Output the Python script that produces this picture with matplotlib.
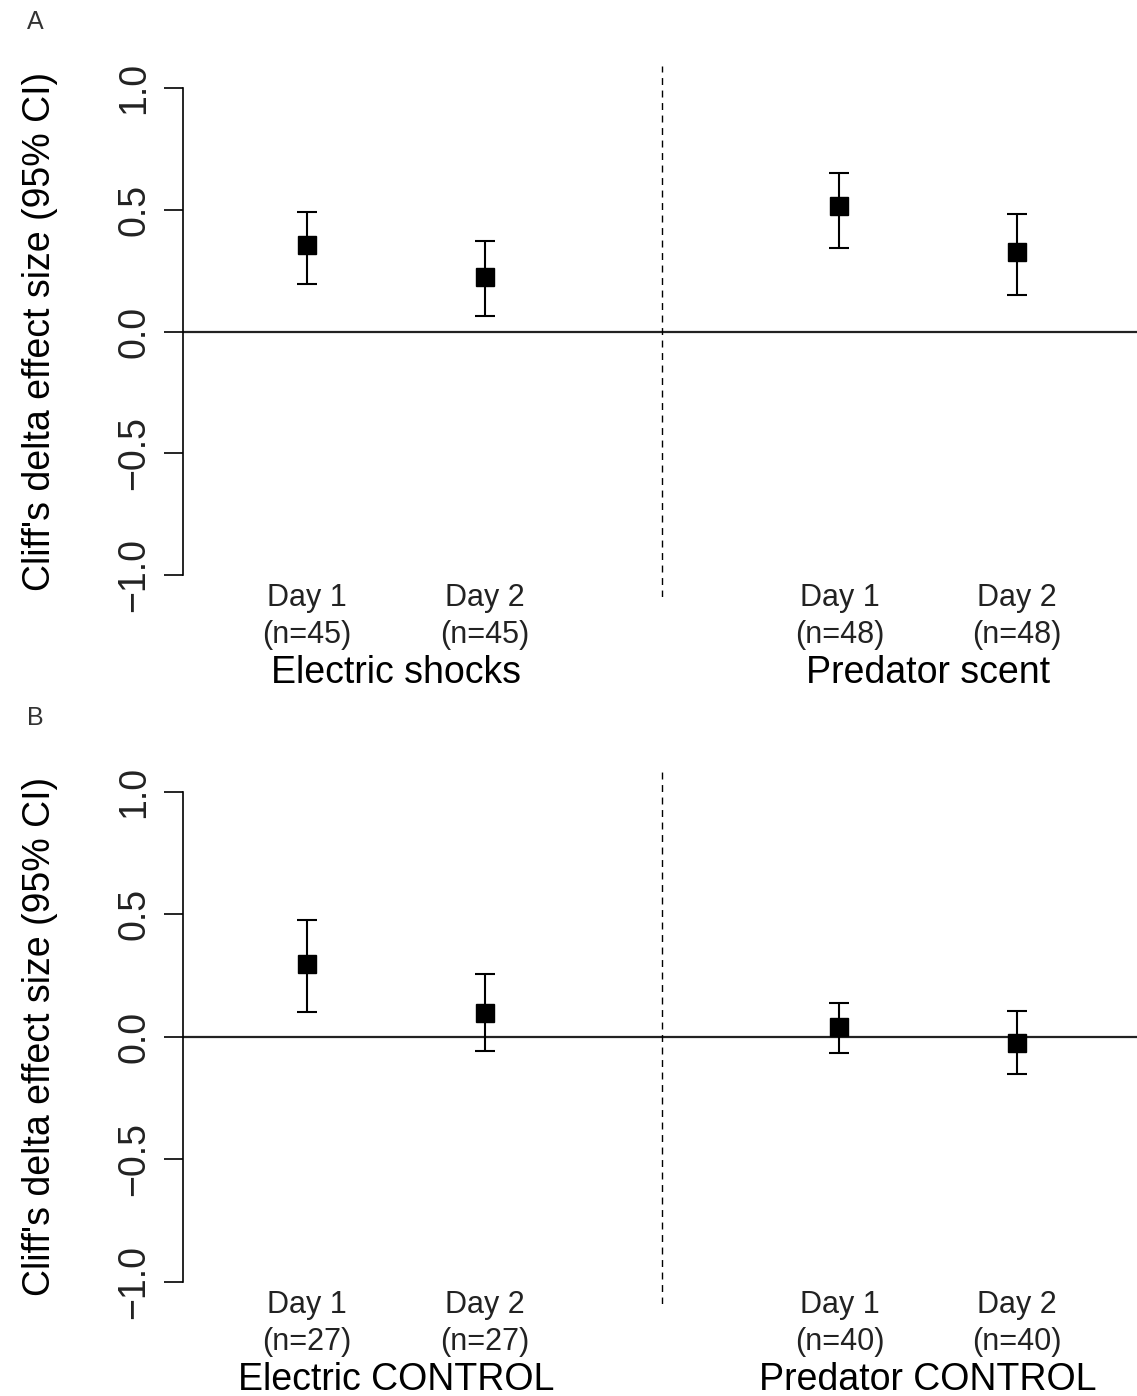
import matplotlib.pyplot as plt

plt.rcParams['font.family'] = ['Liberation Sans', 'DejaVu Sans']

# positions: day 1/2 for first treatment, day 1/2 for second
xpos = [1, 2, 4, 5]

# panel A
a_mean = [0.354, 0.222, 0.516, 0.325]
a_low = [0.197, 0.065, 0.344, 0.152]
a_high = [0.490, 0.373, 0.651, 0.483]
a_n = [45, 45, 48, 48]
a_groups = ["Electric shocks", "Predator scent"]

# panel B
b_mean = [0.296, 0.098, 0.040, -0.024]
b_low = [0.101, -0.060, -0.065, -0.152]
b_high = [0.475, 0.255, 0.139, 0.103]
b_n = [27, 27, 40, 40]
b_groups = ["Electric CONTROL", "Predator CONTROL"]

days = ["Day 1", "Day 2", "Day 1", "Day 2"]


def panel(ax, mean, low, high, n, groups):
    yerr = [[m - l for m, l in zip(mean, low)], [h - m for m, h in zip(mean, high)]]
    ax.errorbar(xpos, mean, yerr=yerr, fmt='s', color='black', markersize=13,
                ecolor='black', elinewidth=1.5, capsize=7, capthick=1.5, zorder=3)
    ax.axhline(0, color='#222222', linewidth=1.6)
    ax.axvline(3, color='black', linewidth=1, linestyle=(0, (5, 4)))
    ax.set_xlim(0.3, 5.716)
    ax.set_ylim(-1.09, 1.09)
    for s in ['top', 'right', 'bottom']:
        ax.spines[s].set_visible(False)
    ax.spines['left'].set_bounds(-1, 1)
    ax.spines['left'].set_linewidth(1.2)
    ax.set_yticks([-1.0, -0.5, 0.0, 0.5, 1.0])
    ax.set_yticklabels(["\u22121.0", "\u22120.5", "0.0", "0.5", "1.0"],
                       rotation=90, va='center', fontsize=27, color='#222222')
    ax.tick_params(axis='y', length=14, width=1.2, pad=8)
    ax.set_xticks([])
    ax.set_ylabel("Cliff's delta effect size (95% CI)", fontsize=27, labelpad=42)
    tr = ax.get_xaxis_transform()
    for x, d, k in zip(xpos, days, n):
        ax.text(x, -0.002, d, transform=tr, ha='center', va='center',
                fontsize=22, color='#222222')
        ax.text(x, -0.072, "(n=%d)" % k, transform=tr, ha='center',
                va='center', fontsize=22, color='#222222')
    ax.text(1.5, -0.143, groups[0], transform=tr, ha='center', va='center', fontsize=27)
    ax.text(4.5, -0.143, groups[1], transform=tr, ha='center', va='center', fontsize=27)


fig = plt.figure(figsize=(11.37, 13.96), dpi=100)
ax1 = fig.add_axes([0.161, 0.5723, 0.845, 0.3804])
ax2 = fig.add_axes([0.161, 0.0661, 0.845, 0.3826])

panel(ax1, a_mean, a_low, a_high, a_n, a_groups)
panel(ax2, b_mean, b_low, b_high, b_n, b_groups)

fig.text(35 / 1137, 1 - 22 / 1396, "A", fontsize=18, ha='center', va='center', color='#333333')
fig.text(35 / 1137, 1 - 718 / 1396, "B", fontsize=18, ha='center', va='center', color='#333333')

fig.savefig("out.png", dpi=100)
